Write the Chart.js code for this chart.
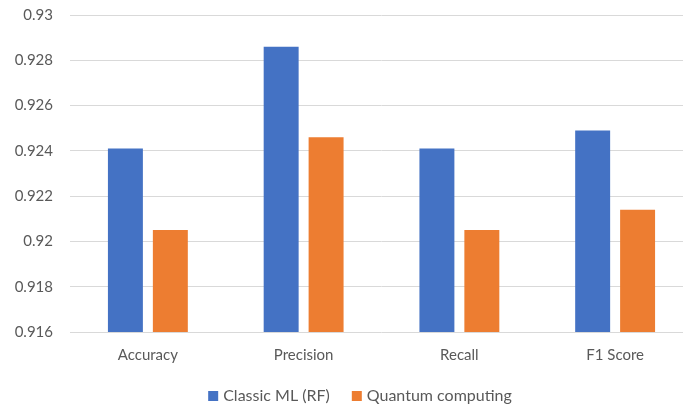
<!DOCTYPE html>
<html>
<head>
<meta charset="utf-8">
<script src="https://cdn.jsdelivr.net/npm/chart.js@4/dist/chart.umd.min.js"></script>
<style>
  html, body { margin: 0; padding: 0; overflow: hidden; background: #ffffff; }
  #wrap { width: 720px; height: 405px; }
</style>
</head>
<body>
<div id="wrap"><canvas id="c" width="720" height="405"></canvas></div>
<script>
// Metric names along the x axis
const categories = ['Accuracy', 'Precision', 'Recall', 'F1 Score'];
// Scores per approach
const classicML = [0.9241, 0.9286, 0.9241, 0.9249];
const quantum = [0.9205, 0.9246, 0.9205, 0.9214];
// Value axis range
const yMin = 0.916;
const yMax = 0.93;
const yStep = 0.002;

const textColor = '#595959';
const fontFamily = 'Lato, "Open Sans", sans-serif';
const fontSize = 15;
const legendFontSize = 16;

// Legend row under the axis: square swatch followed by the series name
const bottomLegend = {
  id: 'bottomLegend',
  afterDraw(chart) {
    const ctx = chart.ctx;
    const box = 10, gap = 5, spacing = 22;
    const y = 396;
    ctx.save();
    ctx.font = legendFontSize + 'px ' + fontFamily;
    ctx.textBaseline = 'middle';
    ctx.textAlign = 'left';
    const items = chart.data.datasets.map(ds => ({
      text: ds.label, color: ds.backgroundColor, w: box + gap + ctx.measureText(ds.label).width
    }));
    const total = items.reduce((s, it) => s + it.w, 0) + spacing * (items.length - 1);
    let x = 360 - total / 2;
    items.forEach(it => {
      ctx.fillStyle = it.color;
      ctx.fillRect(x, y - box / 2, box, box);
      ctx.fillStyle = textColor;
      ctx.fillText(it.text, x + box + gap, y);
      x += it.w + spacing;
    });
    ctx.restore();
  }
};

new Chart(document.getElementById('c'), {
  type: 'bar',
  data: {
    labels: categories,
    datasets: [
      { label: 'Classic ML (RF)', data: classicML, backgroundColor: '#4472C4' },
      { label: 'Quantum computing', data: quantum, backgroundColor: '#ED7D31' }
    ]
  },
  plugins: [bottomLegend],
  options: {
    responsive: false,
    animation: false,
    devicePixelRatio: 1,
    layout: { padding: { left: 0, right: 27, top: 15, bottom: 41 } },
    datasets: { bar: { barPercentage: 0.778, categoryPercentage: 0.577 } },
    scales: {
      x: {
        afterFit(scale) { scale.height = 32; scale.paddingLeft = 0; scale.paddingRight = 0; },
        grid: { display: false, drawTicks: false },
        border: { display: false },
        ticks: { color: textColor, font: { family: fontFamily, size: fontSize }, padding: 14 }
      },
      y: {
        min: yMin,
        max: yMax,
        afterFit(scale) { scale.width = 70; scale.paddingTop = 0; scale.paddingBottom = 0; },
        grid: { color: '#D9D9D9', lineWidth: 1, drawTicks: false },
        border: { display: false },
        ticks: {
          stepSize: yStep,
          color: textColor,
          font: { family: fontFamily, size: fontSize },
          padding: 17,
          callback: v => String(Number(v.toFixed(3)))
        }
      }
    },
    plugins: {
      legend: { display: false },
      tooltip: { enabled: false }
    }
  }
});
</script>
</body>
</html>
